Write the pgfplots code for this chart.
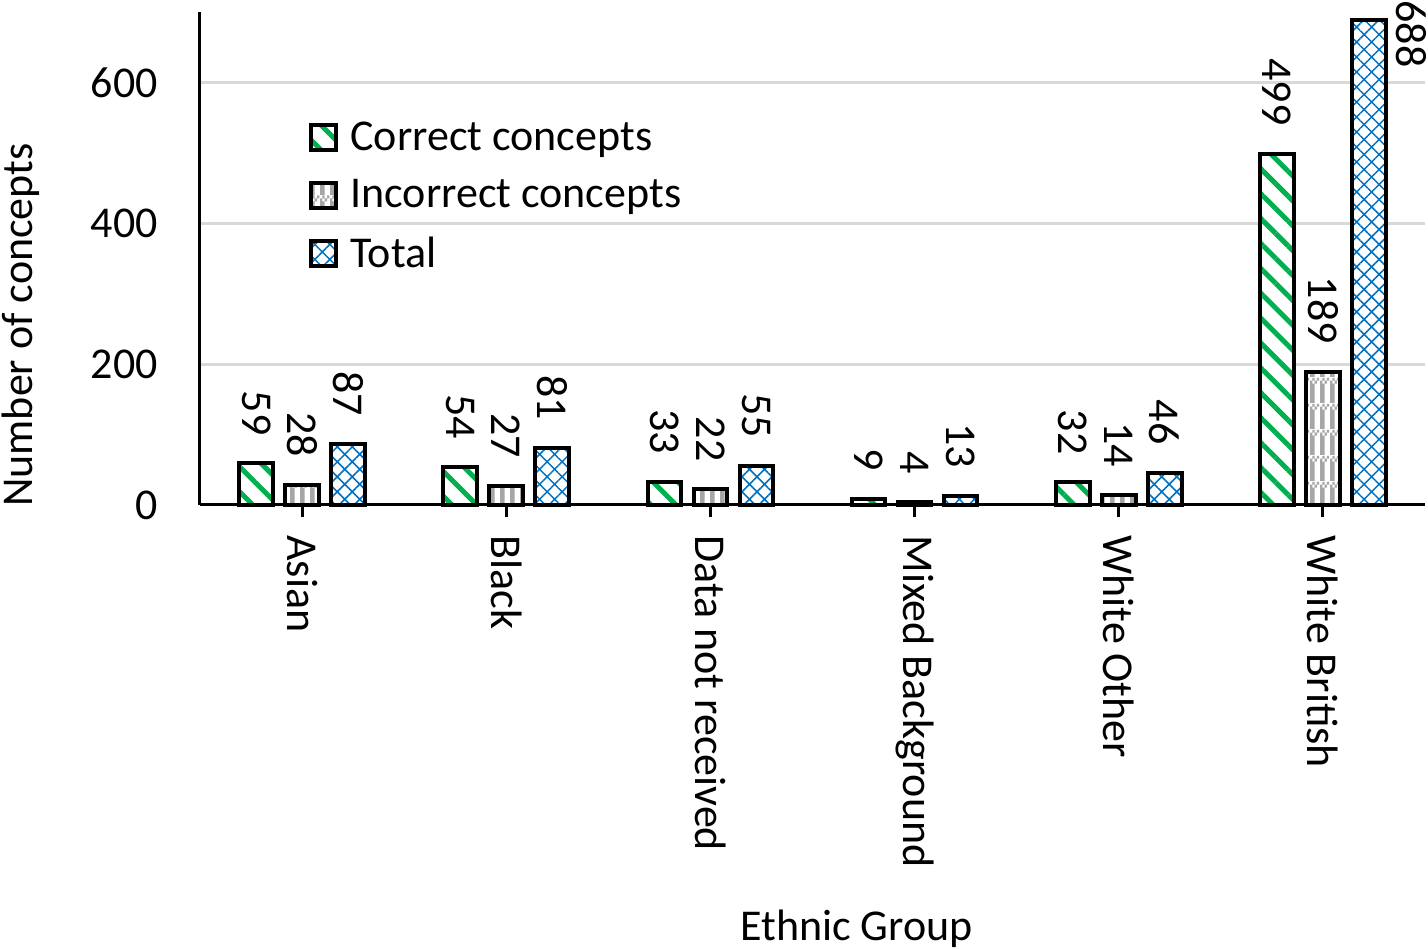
\documentclass[border=0pt]{standalone}
\usepackage{pgfplots}
\pgfplotsset{compat=1.18}
\usepackage{fontspec}
\setmainfont{Carlito}
\usetikzlibrary{patterns,patterns.meta}
\definecolor{cgreen}{RGB}{0,176,80}
\definecolor{cblue}{RGB}{0,112,192}
\definecolor{cgray}{RGB}{166,166,166}
\definecolor{cgrid}{RGB}{217,217,217}
\newcommand\bigf{\fontsize{22}{26}\selectfont}
\pgfdeclarepatternformonly{plaid}{\pgfqpoint{0pt}{0pt}}{\pgfqpoint{5pt}{13pt}}{\pgfqpoint{5pt}{13pt}}{%
 \pgfpathrectangle{\pgfqpoint{0pt}{0pt}}{\pgfqpoint{2.5pt}{10pt}}%
 \pgfpathrectangle{\pgfqpoint{0pt}{10pt}}{\pgfqpoint{1.25pt}{1.5pt}}%
 \pgfpathrectangle{\pgfqpoint{2.5pt}{10pt}}{\pgfqpoint{1.25pt}{1.5pt}}%
 \pgfpathrectangle{\pgfqpoint{1.25pt}{11.5pt}}{\pgfqpoint{1.25pt}{1.5pt}}%
 \pgfpathrectangle{\pgfqpoint{3.75pt}{11.5pt}}{\pgfqpoint{1.25pt}{1.5pt}}%
 \pgfusepath{fill}}
\begin{document}
\begin{tikzpicture}
\begin{axis}[
 width=612.5pt, height=246.5pt, scale only axis,
 /pgf/number format/assume math mode=true,
 ybar, bar width=0.165,
 xmin=-0.5, xmax=5.5, ymin=0, ymax=700,
 xtick={0,1,2,3,4,5},
 xticklabels={Asian,Black,Data not received,Mixed Background,White Other,White British},
 ytick={0,200,400,600},
 axis x line*=bottom, axis y line*=left,
 axis line style={line width=1.5pt,-},
 ymajorgrids, grid style={cgrid,line width=1.5pt},
 tick label style={font=\bigf},
 ytick style={draw=none},
 xtick style={black,line width=1.5pt},
 major tick length=6pt, tick align=outside,
 xticklabel style={yshift=-9pt,rotate=-90,anchor=west,inner sep=0pt},
 yticklabel style={inner sep=0pt,xshift=-15pt},
 xlabel={Ethnic Group}, ylabel={Number of concepts},
 every axis x label/.style={at={(rel axis cs:0.536,-0.859)},anchor=center,font=\bigf},
 every axis y label/.style={at={(rel axis cs:-0.1465,0.365)},rotate=90,anchor=center,font=\bigf},
 clip=false,
 legend style={at={(rel axis cs:0.089,0.786)},anchor=north west,draw=none,fill=none,font=\bigf,row sep=9pt,inner sep=0pt},
 legend cell align=left,
 legend image code/.code={\draw[#1,line width=2pt] (0pt,-6.25pt) rectangle (12.5pt,6.25pt); \path (16.5pt,0pt);},
 every node near coord/.append style={font=\bigf,rotate=-90,anchor=east,inner xsep=13pt,inner ysep=0pt},
]
\addplot[draw=black,line width=2pt,preaction={fill=white},pattern={Lines[angle=-45,distance=8.8pt,line width=2.5pt]},pattern color=cgreen,bar shift=-0.225,nodes near coords]
 coordinates {(0,59) (1,54) (2,33) (3,9) (4,32) (5,499)};
\addplot[draw=black,line width=2pt,preaction={fill=white},pattern=plaid,pattern color=cgray,bar shift=0,nodes near coords]
 coordinates {(0,28) (1,27) (2,22) (3,4) (4,14) (5,189)};
\addplot[draw=black,line width=2pt,preaction={fill=white},pattern={Hatch[angle=45,distance=5.3pt,line width=0.75pt]},pattern color=cblue,bar shift=0.225,nodes near coords]
 coordinates {(0,87) (1,81) (2,55) (3,13) (4,46)};
\addplot[draw=black,line width=2pt,preaction={fill=white},pattern={Hatch[angle=45,distance=5.3pt,line width=0.75pt]},pattern color=cblue,bar shift=0.225,forget plot]
 coordinates {(5,688)};
\legend{Correct concepts,Incorrect concepts,Total}
\node[font=\bigf,inner sep=0pt,rotate=-90,anchor=west] at (rel axis cs:0.9886,1.0243) {688};
\coordinate (BL) at (rel axis cs:-0.16327,-0.90061);
\coordinate (TR) at (rel axis cs:1.00245,1.02434);
\end{axis}
\pgfresetboundingbox
\path[use as bounding box] (BL) rectangle (TR);
\end{tikzpicture}
\end{document}
